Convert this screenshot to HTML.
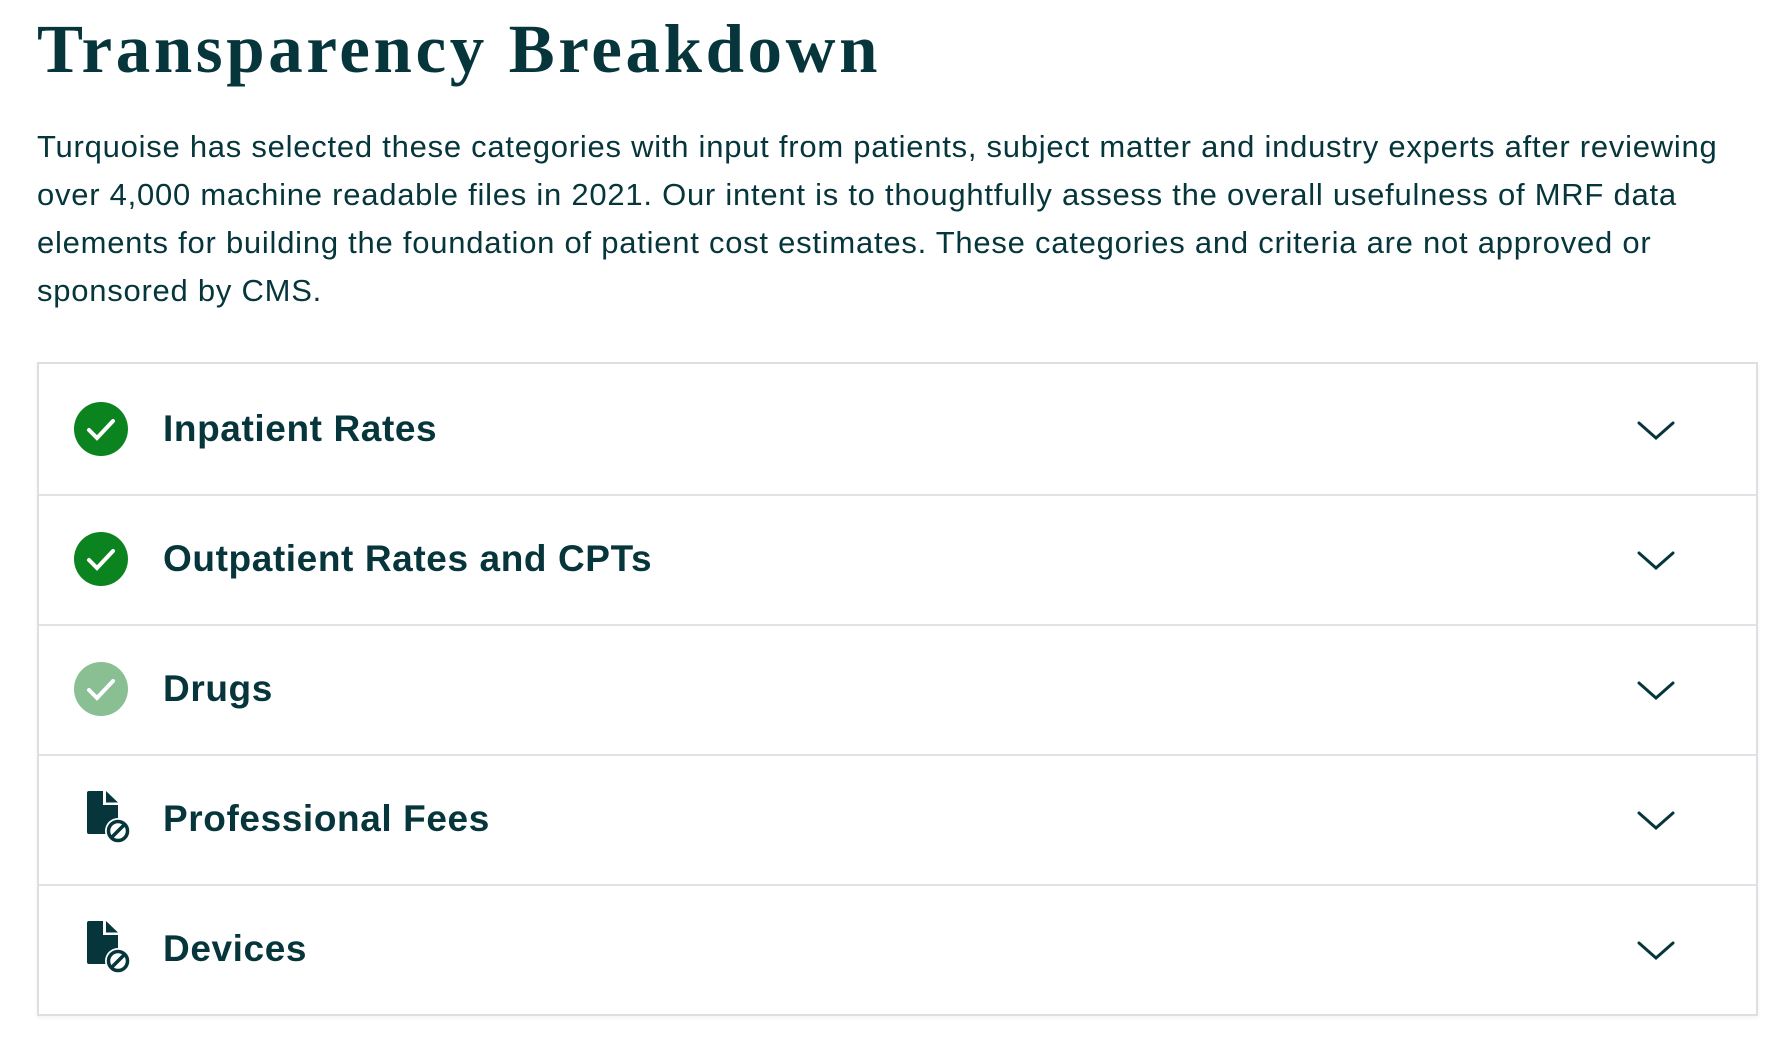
<!DOCTYPE html>
<html><head><meta charset="utf-8"><style>
html,body{margin:0;padding:0;background:#fff;width:1786px;height:1054px;overflow:hidden;color:#06363b}
h1{position:absolute;left:37px;top:4px;margin:0;font-family:"Liberation Serif",serif;font-weight:bold;font-size:69px;letter-spacing:3.6px;line-height:90px;white-space:nowrap}
.p{position:absolute;left:37px;top:123px;margin:0;font-family:"Liberation Sans",sans-serif;font-size:31px;letter-spacing:0.75px;line-height:48px}
.p div{white-space:nowrap}
.box{position:absolute;left:37px;top:362px;width:1717px;height:650px;border:2px solid #dedfe3;box-shadow:0 2px 4px rgba(0,0,0,.05)}
.row{position:absolute;left:0;width:1717px;height:130px;border-bottom:2px solid #e1e2e6}
.lab{position:absolute;left:124px;top:43px;font-family:"Liberation Sans",sans-serif;font-weight:bold;font-size:37px;letter-spacing:0.6px;line-height:44px}
.ic{position:absolute;left:35px;top:38px}
.ch{position:absolute;left:1598px;top:57px}
</style></head><body>
<h1>Transparency Breakdown</h1>
<div class="p">
<div>Turquoise has selected these categories with input from patients, subject matter and industry experts after reviewing</div>
<div>over 4,000 machine readable files in 2021. Our intent is to thoughtfully assess the overall usefulness of MRF data</div>
<div>elements for building the foundation of patient cost estimates. These categories and criteria are not approved or</div>
<div>sponsored by CMS.</div>
</div>
<div class="box">
<div class="row" style="top:0">
<svg class="ic" width="54" height="54"><circle cx="27" cy="27" r="27" fill="#0b8420"/><path d="M15 28 L23 36 L39 19" stroke="#fff" stroke-width="4" fill="none" stroke-linecap="round"/></svg>
<div class="lab">Inpatient Rates</div>
<svg class="ch" width="38" height="20"><path d="M2 2 L19 17 L36 2" stroke="#06363b" stroke-width="3" fill="none" stroke-linecap="round"/></svg></div>
<div class="row" style="top:130px">
<svg class="ic" width="54" height="54"><circle cx="27" cy="27" r="27" fill="#0b8420"/><path d="M15 28 L23 36 L39 19" stroke="#fff" stroke-width="4" fill="none" stroke-linecap="round"/></svg>
<div class="lab">Outpatient Rates and CPTs</div>
<svg class="ch" width="38" height="20"><path d="M2 2 L19 17 L36 2" stroke="#06363b" stroke-width="3" fill="none" stroke-linecap="round"/></svg></div>
<div class="row" style="top:260px">
<svg class="ic" width="54" height="54"><circle cx="27" cy="27" r="27" fill="#8abf93"/><path d="M15 28 L23 36 L39 19" stroke="#fff" stroke-width="4" fill="none" stroke-linecap="round"/></svg>
<div class="lab">Drugs</div>
<svg class="ch" width="38" height="20"><path d="M2 2 L19 17 L36 2" stroke="#06363b" stroke-width="3" fill="none" stroke-linecap="round"/></svg></div>
<div class="row" style="top:390px">
<svg class="ic" width="54" height="54" style="left:46px;top:36px"><path d="M2 3 Q2 1 4 1 L18 1 L18 15 L33 15 L33 44 L4 44 Q2 44 2 42 Z" fill="#06363b"/><path d="M21 1 L33 12.5 L21 12.5 Z" fill="#06363b"/><circle cx="33" cy="41" r="13" fill="#fff"/><circle cx="33" cy="41" r="9.5" fill="none" stroke="#06363b" stroke-width="3.5"/><path d="M27 47 L39 35" stroke="#06363b" stroke-width="3.5"/></svg>
<div class="lab">Professional Fees</div>
<svg class="ch" width="38" height="20"><path d="M2 2 L19 17 L36 2" stroke="#06363b" stroke-width="3" fill="none" stroke-linecap="round"/></svg></div>
<div class="row" style="top:520px;border-bottom:none">
<svg class="ic" width="54" height="54" style="left:46px;top:36px"><path d="M2 3 Q2 1 4 1 L18 1 L18 15 L33 15 L33 44 L4 44 Q2 44 2 42 Z" fill="#06363b"/><path d="M21 1 L33 12.5 L21 12.5 Z" fill="#06363b"/><circle cx="33" cy="41" r="13" fill="#fff"/><circle cx="33" cy="41" r="9.5" fill="none" stroke="#06363b" stroke-width="3.5"/><path d="M27 47 L39 35" stroke="#06363b" stroke-width="3.5"/></svg>
<div class="lab">Devices</div>
<svg class="ch" width="38" height="20"><path d="M2 2 L19 17 L36 2" stroke="#06363b" stroke-width="3" fill="none" stroke-linecap="round"/></svg></div>
</div>
</body></html>
